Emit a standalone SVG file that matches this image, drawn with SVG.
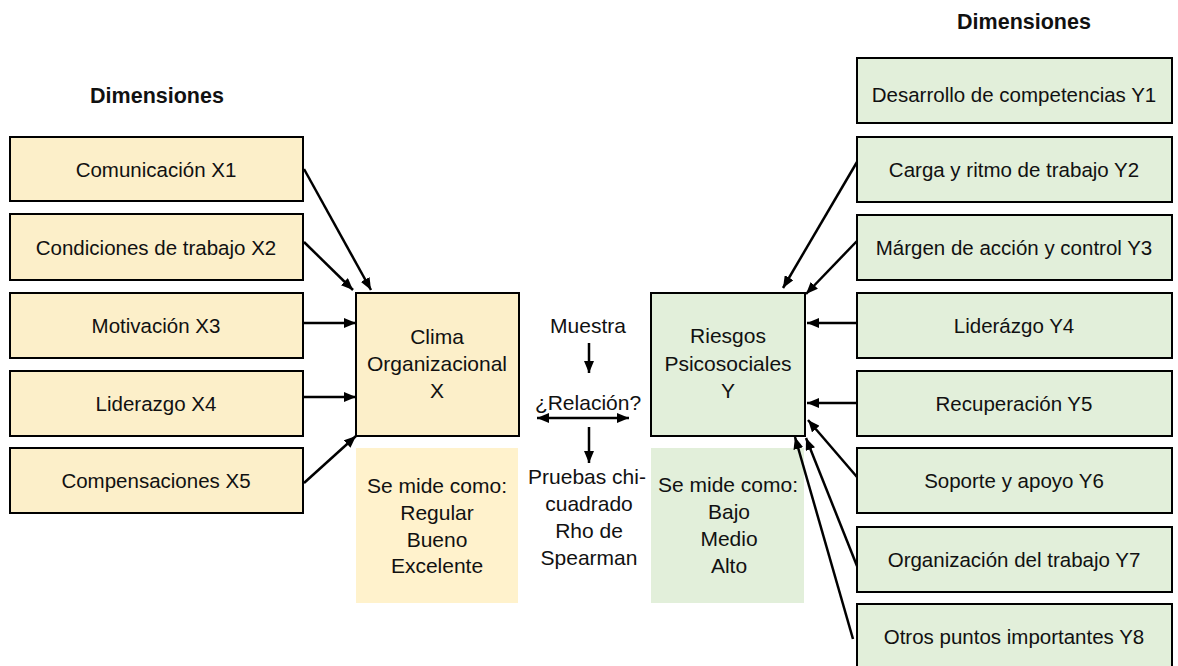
<svg xmlns="http://www.w3.org/2000/svg" width="1178" height="666" viewBox="0 0 1178 666">
<defs>
<marker id="ah" viewBox="0 0 12 10" refX="12" refY="5" markerWidth="12" markerHeight="10" markerUnits="userSpaceOnUse" orient="auto-start-reverse">
<path d="M0,0 L12,5 L0,10 Z" fill="#000"/>
</marker>
<style>
.t{font-family:"Liberation Sans",Arial,sans-serif;font-size:20.5px;fill:#111;text-anchor:middle}
.m{font-family:"Liberation Sans",Arial,sans-serif;font-size:21px;fill:#111;text-anchor:middle}
.h{font-family:"Liberation Sans",Arial,sans-serif;font-size:21.5px;font-weight:bold;fill:#111;text-anchor:middle}
.bx{fill:#FCEFC9;stroke:#000;stroke-width:2}
.gx{fill:#E2EFDA;stroke:#000;stroke-width:2}
.sy{fill:#FFF2CC}
.sg{fill:#E2EFDA}
.c{stroke:#000;stroke-width:2.5;fill:none;marker-end:url(#ah)}
</style>
</defs>
<rect width="1178" height="666" fill="#fff"/>

<text class="h" x="157" y="103">Dimensiones</text>
<text class="h" x="1024" y="29">Dimensiones</text>

<g id="x1"><rect class="bx" x="10" y="137" width="293" height="64"/><text class="t" x="156" y="177">Comunicación X1</text></g>
<g id="x2"><rect class="bx" x="10" y="214" width="293" height="66"/><text class="t" x="156" y="255">Condiciones de trabajo X2</text></g>
<g id="x3"><rect class="bx" x="10" y="293" width="293" height="65"/><text class="t" x="156" y="333">Motivación X3</text></g>
<g id="x4"><rect class="bx" x="10" y="371" width="293" height="65"/><text class="t" x="156" y="411">Liderazgo X4</text></g>
<g id="x5"><rect class="bx" x="10" y="448" width="293" height="65"/><text class="t" x="156" y="488">Compensaciones  X5</text></g>

<g id="clima"><rect class="bx" x="356" y="293" width="163" height="143"/>
<text class="m" x="437" y="344">Clima</text><text class="m" x="437" y="371">Organizacional</text><text class="m" x="437" y="398">X</text></g>
<g id="clima-mide"><rect class="sy" x="356" y="448" width="162" height="155"/>
<text class="m" x="437" y="493">Se mide como:</text><text class="m" x="437" y="520">Regular</text><text class="m" x="437" y="547">Bueno</text><text class="m" x="437" y="573">Excelente</text></g>

<g id="muestra"><text class="m" x="588" y="333">Muestra</text></g>
<g id="relacion"><text class="m" x="588" y="410">¿Relación?</text></g>
<g id="pruebas"><text class="m" x="587" y="484">Pruebas chi-</text><text class="m" x="589" y="511">cuadrado</text><text class="m" x="589" y="538">Rho de</text><text class="m" x="589" y="565">Spearman</text></g>

<g id="riesgos"><rect class="gx" x="651" y="293" width="154" height="143"/>
<text class="m" x="728" y="343">Riesgos</text><text class="m" x="728" y="371">Psicosociales</text><text class="m" x="728" y="398">Y</text></g>
<g id="riesgos-mide"><rect class="sg" x="651" y="448" width="153" height="155"/>
<text class="m" x="728" y="492">Se mide como:</text><text class="m" x="729" y="519">Bajo</text><text class="m" x="729" y="546">Medio</text><text class="m" x="729" y="573">Alto</text></g>

<g id="y1"><rect class="gx" x="857" y="58" width="315" height="65"/><text class="t" x="1014" y="102">Desarrollo de competencias Y1</text></g>
<g id="y2"><rect class="gx" x="857" y="137" width="315" height="65"/><text class="t" x="1014" y="177">Carga y ritmo de trabajo Y2</text></g>
<g id="y3"><rect class="gx" x="857" y="215" width="315" height="65"/><text class="t" x="1014" y="255">Márgen de acción y control Y3</text></g>
<g id="y4"><rect class="gx" x="857" y="293" width="315" height="65"/><text class="t" x="1014" y="333">Liderázgo Y4</text></g>
<g id="y5"><rect class="gx" x="857" y="371" width="315" height="65"/><text class="t" x="1014" y="411">Recuperación Y5</text></g>
<g id="y6"><rect class="gx" x="857" y="448" width="315" height="65"/><text class="t" x="1014" y="488">Soporte y apoyo Y6</text></g>
<g id="y7"><rect class="gx" x="857" y="527" width="315" height="65"/><text class="t" x="1014" y="567">Organización del trabajo Y7</text></g>
<g id="y8"><rect class="gx" x="857" y="604" width="315" height="70"/><text class="t" x="1014" y="644">Otros puntos importantes Y8</text></g>

<g id="connectors">
<line class="c" x1="304" y1="169" x2="371" y2="290"/>
<line class="c" x1="304" y1="242" x2="353" y2="290"/>
<line class="c" x1="303" y1="323" x2="356" y2="323"/>
<line class="c" x1="303" y1="397" x2="356" y2="397"/>
<line class="c" x1="304" y1="483" x2="356" y2="436"/>
<line class="c" x1="589" y1="343" x2="589" y2="373"/>
<line class="c" x1="589" y1="427" x2="589" y2="463"/>
<line class="c" x1="537" y1="418" x2="629" y2="418" style="marker-start:url(#ah)"/>
<line class="c" x1="857" y1="162" x2="783" y2="288"/>
<line class="c" x1="857" y1="241" x2="806" y2="294"/>
<line class="c" x1="857" y1="323" x2="807" y2="323"/>
<line class="c" x1="857" y1="403" x2="807" y2="403"/>
<line class="c" x1="857" y1="477" x2="808" y2="420"/>
<line class="c" x1="857" y1="566" x2="806" y2="438"/>
<line class="c" x1="853" y1="639" x2="795" y2="437"/>
</g>
</svg>
